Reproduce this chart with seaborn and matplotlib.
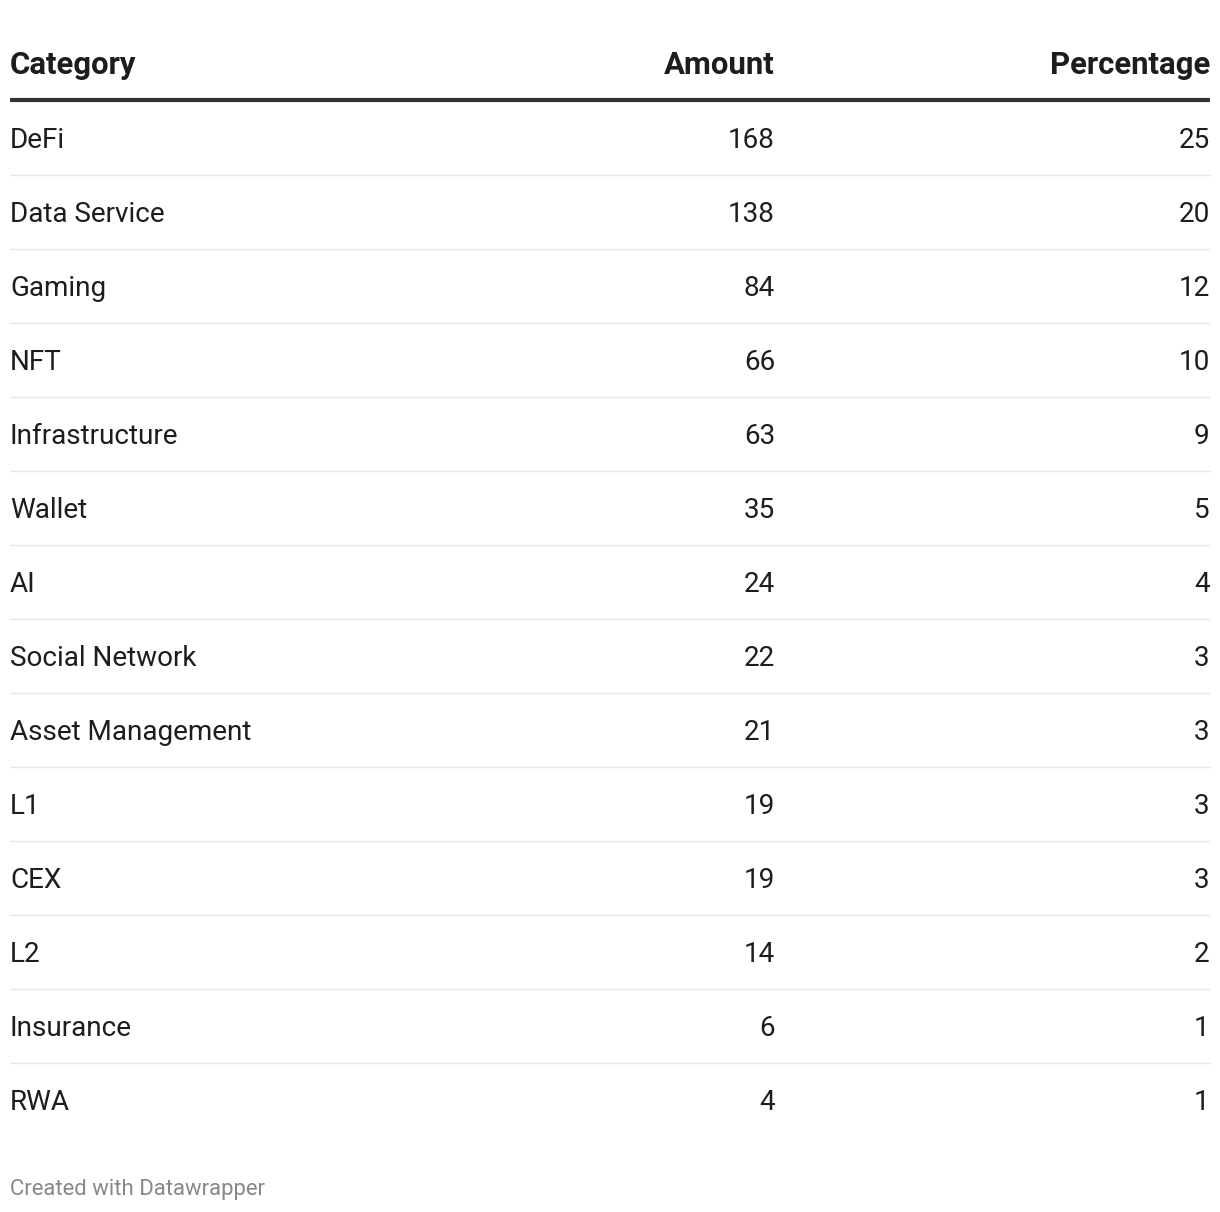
import matplotlib
matplotlib.use("Agg")
import matplotlib.pyplot as plt
import seaborn as sns
import pandas as pd

categories = ["DeFi", "Data Service", "Gaming", "NFT", "Infrastructure", "Wallet", "AI",
              "Social Network", "Asset Management", "L1", "CEX", "L2", "Insurance", "RWA"]
amounts = [168, 138, 84, 66, 63, 35, 24, 22, 21, 19, 19, 14, 6, 4]
percentages = [25, 20, 12, 10, 9, 5, 4, 3, 3, 3, 3, 2, 1, 1]
headers = ["Category", "Amount", "Percentage"]
footer = "Created with Datawrapper"

df = pd.DataFrame({"Category": categories, "Amount": amounts, "Percentage": percentages})

sns.set_theme(style="white")
plt.rcParams["font.family"] = ["Roboto", "DejaVu Sans"]

W, H = 1220, 1212
fig = plt.figure(figsize=(W / 100, H / 100), dpi=100)
ax = fig.add_axes([0, 0, 1, 1])
ax.set_xlim(0, W)
ax.set_ylim(H, 0)
ax.axis("off")

left_x, amt_x, pct_x, right_x = 10, 775, 1209.8, 1210
header_base = 74
first_base = 147.5
row_h = 74
text_col = "#1d1d1d"

hs = 22.4
ax.text(left_x, header_base, headers[0], ha="left", va="baseline", fontsize=hs, fontweight="bold", color=text_col)
ax.text(amt_x, header_base, headers[1], ha="right", va="baseline", fontsize=hs, fontweight="bold", color=text_col)
ax.text(pct_x, header_base, headers[2], ha="right", va="baseline", fontsize=hs, fontweight="bold", color=text_col)
ax.plot([left_x, right_x], [100, 100], color="#333333", lw=3.0, solid_capstyle="butt")

bs = 20.1
n = len(df)
for i, row in df.iterrows():
    yb = first_base + i * row_h
    ax.text(left_x, yb, row["Category"], ha="left", va="baseline", fontsize=bs, color=text_col)
    ax.text(amt_x, yb, f"{row['Amount']}", ha="right", va="baseline", fontsize=bs, color=text_col)
    ax.text(pct_x, yb, f"{row['Percentage']}", ha="right", va="baseline", fontsize=bs, color=text_col)
    if i < n - 1:
        ly = 175 + i * row_h
        ax.plot([left_x, right_x], [ly, ly], color="#e6e6e6", lw=1.0, solid_capstyle="butt")

ax.text(left_x, 1195, footer, ha="left", va="baseline", fontsize=15.9, color="#888888")

fig.savefig("out.png", dpi=100, facecolor="white")
